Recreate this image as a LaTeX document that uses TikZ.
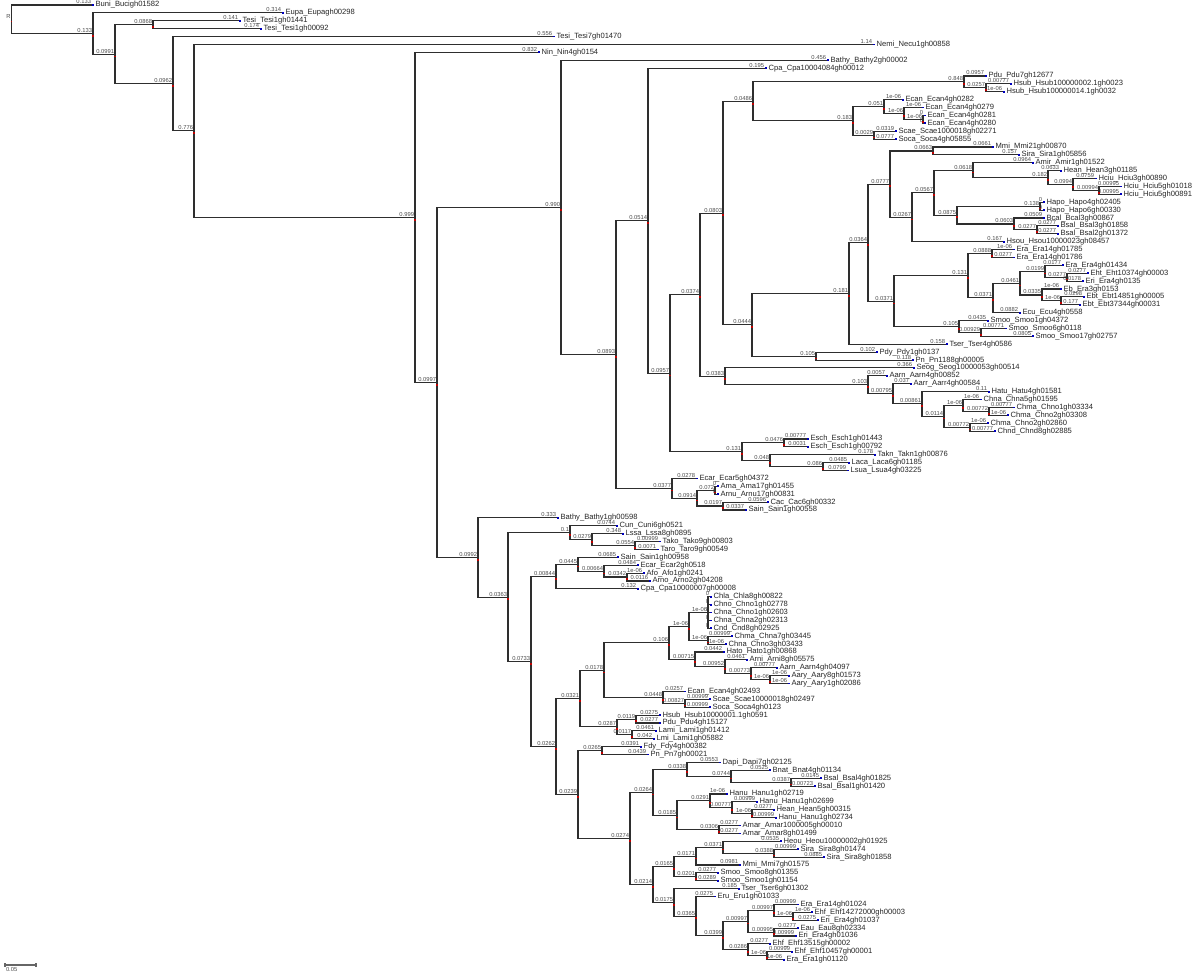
\documentclass[tikz,border=0pt]{standalone}
\usepackage{fontspec}
\setmainfont{Liberation Sans}
\usetikzlibrary{calc}

% leaf: index, tip x, branch value, name
\newcommand\tipleaf[4]{%
  \coordinate (l#1) at (#2,{5+7.89*#1});
  \node[bl] (l#1b) at (l#1) {#3};
  \fill[tipmark] ([xshift=0.2pt,yshift=-0.45pt]l#1) rectangle ++(1pt,0.9pt);
  \node[nm] (l#1n) at ([xshift=1.3pt]l#1) {\detokenize{#4}};
}
% inner node: name, x, first child, last child, value
\newcommand\jnode[5]{%
  \path let \p1=(#3), \p2=(#4) in coordinate (#1) at ({#2*0.5pt},{0.5*(\y1+\y2)});
  \draw[br] (#1) |- (#3);
  \draw[br] (#1) |- (#4);
  \node[bl] (#1b) at (#1) {#5};
  \fill[nodemark] ([xshift=-0.45pt,yshift=-1.6pt]#1) rectangle ++(0.9pt,0.9pt);
}
% inner node with more than two children
\newcommand\jnodem[6]{%
  \jnode{#1}{#2}{#3}{#4}{#5}
  \foreach \c in {#6} {\draw[br] (#1) |- (\c);}
}

\begin{document}
\begin{tikzpicture}[
  x=0.5pt, y=-0.5pt,
  br/.style={draw=black!82, line width=0.55pt},
  nm/.style={font=\fontsize{3.8}{4}\selectfont, anchor=west, inner sep=0.3pt, text=black!85},
  bl/.style={font=\fontsize{2.9}{3}\selectfont, anchor=south east, inner sep=0.3pt, text=black!70},
  tipmark/.style={fill=blue!75!black},
  nodemark/.style={fill=red!75!black}
]
\fill[white] (0,0) rectangle (1200,976);
\useasboundingbox (0,0) rectangle (1200,976);

% leaves, top to bottom
\tipleaf{0}{92}{0.133}{Buni_Bucigh01582}
\tipleaf{1}{282}{0.314}{Eupa_Eupagh00298}
\tipleaf{2}{239}{0.141}{Tesi_Tesi1gh01441}
\tipleaf{3}{260}{0.174}{Tesi_Tesi1gh00092}
\tipleaf{4}{553}{0.556}{Tesi_Tesi7gh01470}
\tipleaf{5}{873}{1.14}{Nemi_Necu1gh00858}
\tipleaf{6}{538}{0.832}{Nin_Nin4gh0154}
\tipleaf{7}{827}{0.456}{Bathy_Bathy2gh00002}
\tipleaf{8}{765}{0.195}{Cpa_Cpa10004084gh00012}
\tipleaf{9}{985}{0.0957}{Pdu_Pdu7gh12677}
\tipleaf{10}{1010}{0.00777}{Hsub_Hsub100000002.1gh0023}
\tipleaf{11}{1003}{1e-06}{Hsub_Hsub100000014.1gh0032}
\tipleaf{12}{902}{1e-06}{Ecan_Ecan4gh0282}
\tipleaf{13}{922}{1e-06}{Ecan_Ecan4gh0279}
\tipleaf{14}{924}{0}{Ecan_Ecan4gh0281}
\tipleaf{15}{924}{0}{Ecan_Ecan4gh0280}
\tipleaf{16}{895}{0.0319}{Scae_Scae1000018gh02271}
\tipleaf{17}{895}{0.0777}{Soca_Soca4gh05855}
\tipleaf{18}{992}{0.0661}{Mmi_Mmi21gh00870}
\tipleaf{19}{1018}{0.157}{Sira_Sira1gh05856}
\tipleaf{20}{1032}{0.0964}{Amir_Amir1gh01522}
\tipleaf{21}{1060}{0.0633}{Hean_Hean3gh01185}
\tipleaf{22}{1095}{0.0759}{Hciu_Hciu3gh00890}
\tipleaf{23}{1120}{0.00995}{Hciu_Hciu5gh01018}
\tipleaf{24}{1120}{0.00995}{Hciu_Hciu5gh00891}
\tipleaf{25}{1043}{0}{Hapo_Hapo4gh02405}
\tipleaf{26}{1043}{0}{Hapo_Hapo6gh00330}
\tipleaf{27}{1043}{0.0509}{Bcal_Bcal3gh00867}
\tipleaf{28}{1057}{0.0277}{Bsal_Bsal3gh01858}
\tipleaf{29}{1057}{0.0277}{Bsal_Bsal2gh01372}
\tipleaf{30}{1003}{0.167}{Hsou_Hsou10000023gh08457}
\tipleaf{31}{1013}{1e-06}{Era_Era14gh01785}
\tipleaf{32}{1013}{0.0277}{Era_Era14gh01786}
\tipleaf{33}{1062}{0.0177}{Era_Era4gh01434}
\tipleaf{34}{1087}{0.0277}{Eht_Eht10374gh00003}
\tipleaf{35}{1082}{0.0178}{Eri_Era4gh0135}
\tipleaf{36}{1060}{1e-06}{Eb_Era3gh0153}
\tipleaf{37}{1083}{0.0298}{Ebt_Ebt14851gh00005}
\tipleaf{38}{1079}{0.177}{Ebt_Ebt37344gh00031}
\tipleaf{39}{1019}{0.0882}{Ecu_Ecu4gh0558}
\tipleaf{40}{987}{0.0435}{Smoo_Smoo1gh04372}
\tipleaf{41}{1005}{0.00771}{Smoo_Smoo6gh0118}
\tipleaf{42}{1032}{0.0805}{Smoo_Smoo17gh02757}
\tipleaf{43}{946}{0.158}{Tser_Tser4gh0586}
\tipleaf{44}{876}{0.102}{Pdy_Pdy1gh0137}
\tipleaf{45}{912}{0.118}{Pn_Pn1188gh00005}
\tipleaf{46}{913}{0.366}{Seog_Seog10000053gh00514}
\tipleaf{47}{886}{0.0057}{Aarn_Aarn4gh00852}
\tipleaf{48}{910}{0.037}{Aarr_Aarr4gh00584}
\tipleaf{49}{988}{0.11}{Hatu_Hatu4gh01581}
\tipleaf{50}{980}{1e-06}{Chna_Chna5gh01595}
\tipleaf{51}{1013}{0.00777}{Chma_Chno1gh03334}
\tipleaf{52}{1007}{1e-06}{Chma_Chno2gh03308}
\tipleaf{53}{987}{1e-06}{Chma_Chno2gh02860}
\tipleaf{54}{994}{0.00777}{Chnd_Chnd8gh02885}
\tipleaf{55}{807}{0.00777}{Esch_Esch1gh01443}
\tipleaf{56}{807}{0.0031}{Esch_Esch1gh00792}
\tipleaf{57}{874}{0.178}{Takn_Takn1gh00876}
\tipleaf{58}{848}{0.0485}{Laca_Laca6gh01185}
\tipleaf{59}{847}{0.0799}{Lsua_Lsua4gh03225}
\tipleaf{60}{696}{0.0278}{Ecar_Ecar5gh04372}
\tipleaf{61}{717}{0}{Ama_Ama17gh01455}
\tipleaf{62}{717}{0}{Arnu_Arnu17gh00831}
\tipleaf{63}{767}{0.0596}{Cac_Cac6gh00332}
\tipleaf{64}{745}{0.0337}{Sain_Sain1gh00558}
\tipleaf{65}{557}{0.333}{Bathy_Bathy1gh00598}
\tipleaf{66}{616}{0.0744}{Cun_Cuni6gh0521}
\tipleaf{67}{622}{0.348}{Lssa_Lssa8gh0895}
\tipleaf{68}{659}{0.00999}{Tako_Tako9gh00803}
\tipleaf{69}{657}{0.0071}{Taro_Taro9gh00549}
\tipleaf{70}{617}{0.0685}{Sain_Sain1gh00958}
\tipleaf{71}{637}{0.0484}{Ecar_Ecar2gh0518}
\tipleaf{72}{643}{1e-06}{Afo_Afo1gh0241}
\tipleaf{73}{649}{0.0116}{Arno_Arno2gh04208}
\tipleaf{74}{637}{0.132}{Cpa_Cpa10000007gh00008}
\tipleaf{75}{710}{0}{Chla_Chla8gh00822}
\tipleaf{76}{710}{0}{Chno_Chno1gh02778}
\tipleaf{77}{710}{0}{Chna_Chno1gh02603}
\tipleaf{78}{710}{0}{Chna_Chna2gh02313}
\tipleaf{79}{710}{0}{Cnd_Cnd8gh02925}
\tipleaf{80}{731}{0.00999}{Chma_Chna7gh03445}
\tipleaf{81}{725}{1e-06}{Chna_Chno3gh03433}
\tipleaf{82}{723}{0.0442}{Hato_Hato1gh00868}
\tipleaf{83}{746}{0.0461}{Arni_Arni8gh05575}
\tipleaf{84}{776}{0.00777}{Aarn_Aarn4gh04097}
\tipleaf{85}{788}{1e-06}{Aary_Aary8gh01573}
\tipleaf{86}{788}{1e-06}{Aary_Aary1gh02086}
\tipleaf{87}{684}{0.0257}{Ecan_Ecan4gh02493}
\tipleaf{88}{709}{0.00999}{Scae_Scae10000018gh02497}
\tipleaf{89}{709}{0.00999}{Soca_Soca4gh0123}
\tipleaf{90}{659}{0.0275}{Hsub_Hsub10000001.1gh0591}
\tipleaf{91}{659}{0.0277}{Pdu_Pdu4gh15127}
\tipleaf{92}{655}{0.0461}{Lami_Lami1gh01412}
\tipleaf{93}{653}{0.042}{Lmi_Lami1gh05882}
\tipleaf{94}{640}{0.0391}{Fdy_Fdy4gh00382}
\tipleaf{95}{647}{0.0439}{Pn_Pn7gh00021}
\tipleaf{96}{719}{0.0553}{Dapi_Dapi7gh02125}
\tipleaf{97}{769}{0.0525}{Bnat_Bnat4gh01134}
\tipleaf{98}{820}{0.0145}{Bsal_Bsal4gh01825}
\tipleaf{99}{814}{0.00723}{Bsal_Bsal1gh01420}
\tipleaf{100}{726}{1e-06}{Hanu_Hanu1gh02719}
\tipleaf{101}{756}{0.00999}{Hanu_Hanu1gh02699}
\tipleaf{102}{773}{0.0277}{Hean_Hean5gh00315}
\tipleaf{103}{775}{0.00999}{Hanu_Hanu1gh02734}
\tipleaf{104}{739}{0.0277}{Amar_Amar1000005gh00010}
\tipleaf{105}{739}{0.0277}{Amar_Amar8gh01499}
\tipleaf{106}{780}{0.0535}{Heou_Heou10000002gh01925}
\tipleaf{107}{797}{0.00999}{Sira_Sira8gh01474}
\tipleaf{108}{823}{0.0885}{Sira_Sira8gh01858}
\tipleaf{109}{739}{0.0981}{Mmi_Mmi7gh01575}
\tipleaf{110}{717}{0.0277}{Smoo_Smoo8gh01355}
\tipleaf{111}{717}{0.0289}{Smoo_Smoo1gh01154}
\tipleaf{112}{738}{0.185}{Tser_Tser6gh01302}
\tipleaf{113}{714}{0.0275}{Eru_Eru1gh01033}
\tipleaf{114}{797}{0.00999}{Era_Era14gh01024}
\tipleaf{115}{811}{1e-06}{Ehf_Ehf14272000gh00003}
\tipleaf{116}{817}{0.0275}{Eri_Era4gh01037}
\tipleaf{117}{797}{0.0277}{Eau_Eau8gh02334}
\tipleaf{118}{795}{0.00999}{Eri_Era4gh01036}
\tipleaf{119}{769}{0.0277}{Ehf_Ehf13515gh00002}
\tipleaf{120}{791}{0.00999}{Ehf_Ehf10457gh00001}
\tipleaf{121}{783}{1e-06}{Era_Era1gh01120}

% inner nodes, children first
\jnode{C}{153}{l2}{l3}{0.0868}
\jnode{N986}{986}{l10}{l11}{0.0257}
\jnode{N964}{964}{l9}{N986}{0.848}
\jnode{N923}{923}{l14}{l15}{1e-06}
\jnode{N904}{904}{l13}{N923}{1e-06}
\jnode{N884}{884}{l12}{N904}{0.051}
\jnode{N874}{874}{l16}{l17}{0.0029}
\jnode{N853}{853}{N884}{N874}{0.183}
\jnode{N753}{753}{N964}{N853}{0.0486}
\jnode{N933}{933}{l18}{l19}{0.0663}
\jnode{N1099}{1099}{l23}{l24}{0.00994}
\jnode{N1073}{1073}{l22}{N1099}{0.0994}
\jnode{N1048}{1048}{l21}{N1073}{0.182}
\jnode{N973}{973}{l20}{N1048}{0.0618}
\jnode{N1040}{1040}{l25}{l26}{0.138}
\jnode{N1037}{1037}{l28}{l29}{0.0277}
\jnode{N1014}{1014}{l27}{N1037}{0.0603}
\jnode{N957}{957}{N1040}{N1014}{0.0875}
\jnode{N934}{934}{N973}{N957}{0.0567}
\jnode{N912}{912}{N934}{l30}{0.0267}
\jnode{N890}{890}{N933}{N912}{0.0777}
\jnode{N992}{992}{l31}{l32}{0.0888}
\jnode{Z2}{1067}{l34}{l35}{0.0277}
\jnode{Z1}{1045}{l33}{Z2}{0.0199}
\jnode{Z4}{1061}{l37}{l38}{1e-06}
\jnode{Z3}{1042}{l36}{Z4}{0.0335}
\jnode{Z}{1020}{Z1}{Z3}{0.0461}
\jnode{Y}{993}{Z}{l39}{0.0371}
\jnode{N968}{968}{N992}{Y}{0.131}
\jnode{N981}{981}{l41}{l42}{0.00929}
\jnode{N959}{959}{l40}{N981}{0.105}
\jnode{X}{894}{N968}{N959}{0.0371}
\jnode{W}{868}{N890}{X}{0.0364}
\jnode{U}{849}{W}{l43}{0.181}
\jnode{V}{816}{l44}{l45}{0.105}
\jnode{Q}{752}{U}{V}{0.0444}
\jnode{P}{723}{N753}{Q}{0.0803}
\jnode{T6}{989}{l51}{l52}{0.00772}
\jnode{T4}{963}{l50}{T6}{1e-06}
\jnode{T5}{970}{l53}{l54}{0.00772}
\jnode{T3}{944}{T4}{T5}{0.0114}
\jnode{T2}{922}{l49}{T3}{0.00861}
\jnode{T1}{893}{l48}{T2}{0.00795}
\jnode{T}{868}{l47}{T1}{0.103}
\jnode{T0}{725}{l46}{T}{0.0383}
\jnode{S}{700}{P}{T0}{0.0374}
\jnode{N784}{784}{l55}{l56}{0.0476}
\jnode{N823}{823}{l58}{l59}{0.086}
\jnode{N770}{770}{l57}{N823}{0.048}
\jnode{R1}{742}{N784}{N770}{0.131}
\jnode{J2}{670}{S}{R1}{0.0957}
\jnode{J}{648}{l8}{J2}{0.0514}
\jnode{M}{715}{l61}{l62}{0.072}
\jnode{Nn}{723}{l63}{l64}{0.0197}
\jnode{Lnode}{697}{M}{Nn}{0.0914}
\jnode{K}{672}{l60}{Lnode}{0.0377}
\jnode{H2}{616}{J}{K}{0.0893}
\jnode{H}{561}{l7}{H2}{0.990}
\jnode{I5}{635}{l68}{l69}{0.0554}
\jnode{I4}{592}{l67}{I5}{0.0279}
\jnode{I3}{570}{l66}{I4}{0.1}
\jnode{I11}{627}{l72}{l73}{0.0342}
\jnode{I10}{604}{l71}{I11}{0.00664}
\jnode{I9}{578}{l70}{I10}{0.0445}
\jnode{I8}{556}{I9}{l74}{0.00844}
\jnodem{C1}{708}{l75}{l79}{1e-06}{l76,l77,l78}
\jnode{C3}{708}{l80}{l81}{1e-06}
\jnode{C2}{689}{C1}{C3}{1e-06}
\jnode{C8}{770}{l85}{l86}{1e-06}
\jnode{C7}{751}{l84}{C8}{0.00773}
\jnode{C6}{725}{l83}{C7}{0.00952}
\jnode{C5}{695}{l82}{C6}{0.00715}
\jnode{C4}{669}{C2}{C5}{0.106}
\jnode{C11}{685}{l88}{l89}{0.00827}
\jnode{C10}{663}{l87}{C11}{0.0448}
\jnode{C9}{604}{C4}{C10}{0.0178}
\jnode{D1}{636}{l90}{l91}{0.0119}
\jnode{D2}{632}{l92}{l93}{0.0117}
\jnode{D3}{617}{D1}{D2}{0.0287}
\jnode{C12}{580}{C9}{D3}{0.0321}
\jnode{E1}{602}{l94}{l95}{0.0265}
\jnode{F3}{791}{l98}{l99}{0.0387}
\jnode{F2}{731}{l97}{F3}{0.0744}
\jnode{F1}{687}{l96}{F2}{0.0338}
\jnode{F9}{752}{l102}{l103}{1e-06}
\jnode{F8}{732}{l101}{F9}{0.00777}
\jnode{F6}{710}{l100}{F8}{0.0291}
\jnode{F7}{719}{l104}{l105}{0.0306}
\jnode{F5}{677}{F6}{F7}{0.0185}
\jnode{F4}{653}{F1}{F5}{0.0264}
\jnode{G8}{774}{l107}{l108}{0.0388}
\jnode{G7}{723}{l106}{G8}{0.0371}
\jnode{G5}{696}{G7}{l109}{0.0171}
\jnode{G6}{696}{l110}{l111}{0.0201}
\jnode{G3}{674}{G5}{G6}{0.0165}
\jnode{G15}{793}{l115}{l116}{1e-06}
\jnode{G13}{774}{l114}{G15}{0.00997}
\jnode{G14}{774}{l117}{l118}{0.00995}
\jnode{G11}{748}{G13}{G14}{0.00997}
\jnode{G16}{767}{l120}{l121}{1e-06}
\jnode{G12}{748}{l119}{G16}{0.0286}
\jnode{G10}{723}{G11}{G12}{0.0399}
\jnode{G9}{696}{l113}{G10}{0.0365}
\jnode{G4}{674}{l112}{G9}{0.0175}
\jnode{G2}{653}{G3}{G4}{0.0214}
\jnode{G1}{630}{F4}{G2}{0.0274}
\jnode{K1}{578}{E1}{G1}{0.0239}
\jnode{I13}{556}{C12}{K1}{0.0262}
\jnode{I6}{531}{I8}{I13}{0.0733}
\jnode{I2}{508}{I3}{I6}{0.0363}
\jnode{I}{478}{l65}{I2}{0.0992}
\jnode{G}{437}{H}{I}{0.0997}
\jnode{F}{415}{l6}{G}{0.999}
\jnode{E}{194}{l5}{F}{0.776}
\jnode{D}{173}{l4}{E}{0.0962}
\jnode{B}{115}{C}{D}{0.0991}
\jnode{A}{93}{l1}{B}{0.133}
\jnode{root}{11.5}{l0}{A}{R}

% scale bar
\coordinate (sb1) at (5,965);
\coordinate (sb2) at (36,965);
\draw[br, black!60] (sb1) -- (sb2);
\draw[br, black!60] ([yshift=0.8pt]sb1) -- ([yshift=-0.8pt]sb1);
\draw[br, black!60] ([yshift=0.8pt]sb2) -- ([yshift=-0.8pt]sb2);
\node[bl, anchor=north west] (sblab) at ([yshift=-0.6pt]sb1) {0.05};
\end{tikzpicture}
\end{document}
